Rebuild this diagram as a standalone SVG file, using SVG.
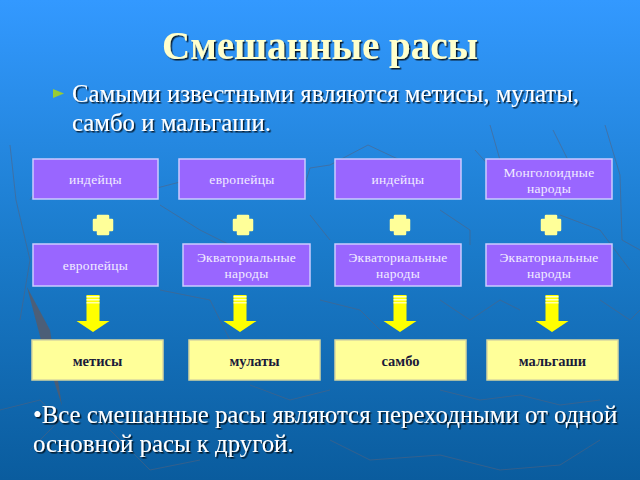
<svg xmlns="http://www.w3.org/2000/svg" width="640" height="480" viewBox="0 0 640 480">
<defs>
<linearGradient id="bg" x1="0" y1="0" x2="0" y2="1">
<stop offset="0" stop-color="#3399ff"/>
<stop offset="0.5" stop-color="#1b7ccc"/>
<stop offset="1" stop-color="#0a5c9e"/>
</linearGradient>
<g id="plus">
<path d="M-5,-9 H5 V-5 H9 V5 H5 V9 H-5 V5 H-9 V-5 H-5 Z" fill="#ffff99" stroke="#ffff99" stroke-width="2.5" stroke-linejoin="round"/>
</g>
<g id="arrow">
<path d="M-6.5,0 H6.5 V26 H16.5 L0,37 L-16.5,26 H-6.5 Z" fill="#ffff00"/>
<rect x="-6.5" y="1" width="13" height="1.5" fill="#ffffcc"/>
<rect x="-6.5" y="4" width="13" height="1.5" fill="#ffffbb"/>
<rect x="-6.5" y="7" width="13" height="1.5" fill="#ffffaa"/>
</g>
<filter id="sh" x="-5%" y="-20%" width="110%" height="140%">
<feDropShadow dx="1.5" dy="1.5" stdDeviation="0.4" flood-color="#000000" flood-opacity="0.8"/>
</filter>
</defs>
<style>
.title{font-family:"Liberation Serif",serif;font-weight:bold;font-size:39px;fill:#ffffcc}
.body{font-family:"Liberation Serif",serif;font-size:24.8px;fill:#ffffff}
.pbox{fill:#9966ff;stroke:#ccccff;stroke-width:1.5}
.ybox{fill:#ffff99;stroke:#d8d8a0;stroke-width:1.5}
.pt{font-family:"Liberation Serif",serif;font-size:13.5px;fill:#f2ecff;text-anchor:middle;letter-spacing:0.3px}
.yt{font-family:"Liberation Serif",serif;font-weight:bold;font-size:14.5px;fill:#1a1a3a;text-anchor:middle}
.map{fill:none;stroke:#55607a;stroke-width:1;opacity:0.55}
</style>
<rect width="640" height="480" fill="url(#bg)"/>
<g id="background">
<polyline class="map" points="10,145 16,200 30,260 20,320"/>
<polyline class="map" points="30,200 55,158"/>
<polyline class="map" points="130,195 180,182 205,188 230,165"/>
<polyline class="map" points="240,195 262,166"/>
<polyline class="map" points="300,200 310,168 330,165 368,145 400,160 420,162 440,195"/>
<polyline class="map" points="475,150 500,178 505,200"/>
<polyline class="map" points="490,125 500,160 520,175 525,200"/>
<polyline class="map" points="540,160 545,200"/>
<polyline class="map" points="553,130 568,160 565,200"/>
<polyline class="map" points="605,125 620,175 622,240 640,250"/>
<polyline class="map" points="160,205 200,230 230,245"/>
<polyline class="map" points="310,215 330,240"/>
<polyline class="map" points="440,210 470,230 470,245"/>
<polyline class="map" points="560,215 600,230 630,270"/>
<polyline class="map" points="160,290 210,300 230,340"/>
<polyline class="map" points="320,300 360,310 380,330"/>
<polyline class="map" points="440,300 470,320 500,300 520,310"/>
<polyline class="map" points="600,300 630,320 640,310"/>
<polyline class="map" points="250,385 290,400 330,390"/>
<polyline class="map" points="440,390 480,400 520,395 560,405 600,400"/>
<polyline class="map" points="330,440 370,460 440,455 500,470 560,465 600,440"/>
<polyline class="map" points="110,430 150,470 200,460"/>
<polyline class="map" points="0,410 40,400 60,420 30,450"/>
<polygon points="27,287 50,330 62,406 41,340" fill="#5a5a66" opacity="0.8"/>
</g>
<text class="title" x="320" y="59" text-anchor="middle" filter="url(#sh)">Смешанные расы</text>
<polygon points="53,89 64,93.5 53,98" fill="#99cc33"/>
<text class="body" filter="url(#sh)"><tspan x="72" y="102">Самыми известными являются метисы, мулаты,</tspan><tspan x="72" y="131">самбо и мальгаши.</tspan></text>
<g id="connectors">
<use href="#plus" x="103" y="225"/>
<use href="#plus" x="243" y="225"/>
<use href="#plus" x="400" y="225"/>
<use href="#plus" x="551" y="225"/>
<use href="#arrow" x="93" y="295"/>
<use href="#arrow" x="240" y="295"/>
<use href="#arrow" x="400" y="295"/>
<use href="#arrow" x="552" y="295"/>
</g>
<g id="n1"><rect class="pbox" x="33" y="159" width="125" height="40"/><text class="pt" x="95.5" y="184">индейцы</text></g>
<g id="n2"><rect class="pbox" x="179" y="159" width="126" height="40"/><text class="pt" x="242" y="184">европейцы</text></g>
<g id="n3"><rect class="pbox" x="335" y="159" width="126" height="40"/><text class="pt" x="398" y="184">индейцы</text></g>
<g id="n4"><rect class="pbox" x="486" y="159" width="126" height="40"/><text class="pt" x="549" y="177">Монголоидные</text><text class="pt" x="549" y="193">народы</text></g>
<g id="n5"><rect class="pbox" x="33" y="244" width="125" height="42"/><text class="pt" x="95.5" y="270">европейцы</text></g>
<g id="n6"><rect class="pbox" x="183" y="244" width="127" height="42"/><text class="pt" x="246.5" y="262">Экваториальные</text><text class="pt" x="246.5" y="278">народы</text></g>
<g id="n7"><rect class="pbox" x="335" y="244" width="126" height="42"/><text class="pt" x="398" y="262">Экваториальные</text><text class="pt" x="398" y="278">народы</text></g>
<g id="n8"><rect class="pbox" x="486" y="244" width="126" height="42"/><text class="pt" x="549" y="262">Экваториальные</text><text class="pt" x="549" y="278">народы</text></g>
<g id="n9"><rect class="ybox" x="32" y="340" width="131" height="40"/><text class="yt" x="97.5" y="366">метисы</text></g>
<g id="n10"><rect class="ybox" x="189" y="340" width="131" height="40"/><text class="yt" x="254.5" y="366">мулаты</text></g>
<g id="n11"><rect class="ybox" x="335" y="340" width="131" height="40"/><text class="yt" x="400.5" y="366">самбо</text></g>
<g id="n12"><rect class="ybox" x="487" y="340" width="131" height="40"/><text class="yt" x="552.5" y="366">мальгаши</text></g>
<text class="body" filter="url(#sh)"><tspan x="33" y="423">•Все смешанные расы являются переходными от одной</tspan><tspan x="33" y="452">основной расы к другой.</tspan></text>
</svg>
